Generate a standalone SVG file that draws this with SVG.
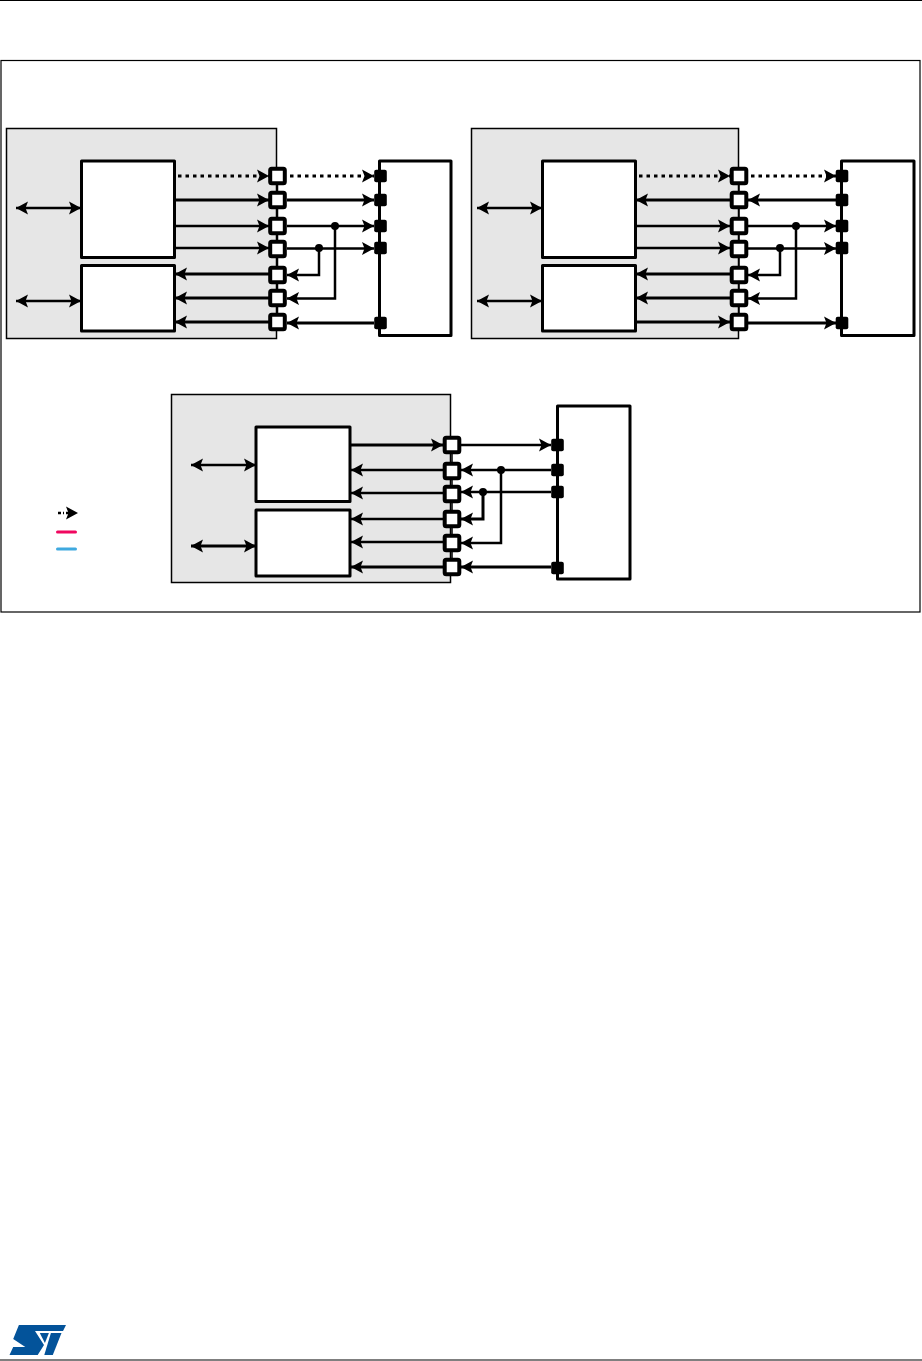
<svg xmlns="http://www.w3.org/2000/svg" width="922" height="1361" viewBox="0 0 922 1361">
<style>
.panel{fill:#e6e6e6;stroke:#000;stroke-width:1.5}
.box{fill:#fff;stroke:#000;stroke-width:3;stroke-linejoin:round}
.ext{fill:none;stroke:#000;stroke-width:3;stroke-linejoin:round}
.pin{fill:#fff;stroke:#000;stroke-width:4;stroke-linejoin:round}
.blk{fill:#000;stroke:none}
.w{fill:none;stroke:#000;stroke-width:3;marker-end:url(#a)}
.n{fill:none;stroke:#000;stroke-width:2.500;marker-end:url(#a)}
.d{fill:none;stroke:#000;stroke-width:3;stroke-dasharray:3.500 4;marker-end:url(#a)}
.b{fill:none;stroke:#000;stroke-width:2.500;marker-start:url(#a);marker-end:url(#a)}
.p{fill:none;stroke:#000;stroke-width:1.500}
.leg{fill:none;stroke-width:3;stroke-linecap:round}
</style>
<defs>
<marker id="a" markerUnits="userSpaceOnUse" markerWidth="13" markerHeight="15" refX="12" refY="7" orient="auto-start-reverse"><path d="M0,0.500 L12,7 L0,13.500 L2.500,7Z" fill="#000"/></marker>
<g id="open"><rect x="-7.300" y="-7.300" width="14.600" height="14.600" rx="1.500" class="pin"/></g>
<g id="solid"><rect x="-6.300" y="-6.200" width="12.600" height="12.400" rx="2" class="blk"/></g>
</defs>
<rect width="922" height="1361" fill="#fff"/>
<path d="M0,0.500H922M0,1360H922" stroke="#000" stroke-width="1.200" fill="none"/>
<rect id="frame" x="1" y="60.500" width="919" height="551.500" fill="none" stroke="#000" stroke-width="1.200"/>

<g id="panel-a">
<rect class="panel" x="6.500" y="128.500" width="270" height="210"/>
<rect class="box" x="81.500" y="161" width="93" height="96.500"/>
<rect class="box" x="81.500" y="265.500" width="93" height="65.500"/>
</g>
<g id="panel-b">
<rect class="panel" x="471.500" y="128.500" width="267" height="210"/>
<rect class="box" x="542.500" y="161" width="93" height="96.500"/>
<rect class="box" x="542.500" y="265.500" width="93" height="65.500"/>
</g>
<g id="panel-c">
<rect class="panel" x="171.500" y="394.500" width="279" height="188"/>
<rect class="box" x="256" y="427" width="94" height="74.500"/>
<rect class="box" x="256" y="510" width="94" height="66"/>
</g>
<g id="ext-a"><rect class="ext" x="379.500" y="161" width="71.500" height="174.500"/></g>
<g id="ext-b"><rect class="ext" x="841.500" y="161" width="72.500" height="174.500"/></g>
<g id="ext-c"><rect class="ext" x="557.500" y="406" width="72.500" height="173"/></g>

<g id="connectors">
<path class="p" d="M277.500,176V322M739,176V322M452,445V567"/>
<path class="d" d="M178,176H269"/><path class="d" d="M290,176H374"/>
<path class="w" d="M175,200H269"/><path class="w" d="M287,200H374"/>
<path class="n" d="M175,226H269"/><path class="n" d="M287,226H374"/>
<path class="n" d="M175,248H269"/><path class="n" d="M287,248.500H374"/>
<path class="w" d="M269,274H175"/><path class="w" d="M269,298H175"/><path class="w" d="M269,322H175"/>
<path class="n" d="M319,249V275H287"/><path class="n" d="M335,226V298.500H287"/>
<path class="w" d="M374,323H287"/>
<path class="b" d="M16,208H81"/><path class="b" d="M16,301H81"/>
<circle cx="335" cy="226" r="4"/><circle cx="319" cy="248" r="4"/>
<path class="d" d="M639,176H730"/><path class="d" d="M751,176H836"/>
<path class="w" d="M730,200H636"/><path class="w" d="M836,200H748"/>
<path class="n" d="M636,226H730"/><path class="n" d="M748,226H836"/>
<path class="n" d="M636,248H730"/><path class="n" d="M748,248.500H836"/>
<path class="w" d="M730,274H636"/><path class="w" d="M730,298H636"/>
<path class="w" d="M636,322H730"/><path class="w" d="M748,323H836"/>
<path class="n" d="M780,249V275H748"/><path class="n" d="M796,226V298.500H748"/>
<path class="b" d="M477,208H542"/><path class="b" d="M477,301H542"/>
<circle cx="796" cy="226" r="4"/><circle cx="780" cy="248" r="4"/>
<path class="w" d="M351,445H443"/><path class="n" d="M461,445H551"/>
<path class="n" d="M443,470H351"/><path class="n" d="M443,493H351"/>
<path class="n" d="M443,519H351"/><path class="n" d="M443,542H351"/><path class="w" d="M443,567H351"/>
<path class="n" d="M551,470H461"/><path class="n" d="M551,492H461"/>
<path class="w" d="M483,492V519H461"/><path class="n" d="M501,470V543H461"/>
<path class="w" d="M551,567H461"/>
<path class="b" d="M191,465H256"/><path class="w" d="M191,546H256" marker-start="url(#a)"/>
<circle cx="501" cy="470" r="4"/><circle cx="483" cy="492" r="4"/>
</g>

<g id="pins-a">
<use href="#open" x="277.500" y="176"/><use href="#open" x="277.500" y="200"/><use href="#open" x="277.500" y="226"/><use href="#open" x="277.500" y="249"/><use href="#open" x="277.500" y="275"/><use href="#open" x="277.500" y="298"/><use href="#open" x="277.500" y="322"/>
<use href="#solid" x="380.500" y="176"/><use href="#solid" x="380.500" y="200"/><use href="#solid" x="380.500" y="226"/><use href="#solid" x="380.500" y="248"/><use href="#solid" x="380.500" y="323"/>
</g>
<g id="pins-b">
<use href="#open" x="739" y="176"/><use href="#open" x="739" y="200"/><use href="#open" x="739" y="226"/><use href="#open" x="739" y="249"/><use href="#open" x="739" y="275"/><use href="#open" x="739" y="298"/><use href="#open" x="739" y="322"/>
<use href="#solid" x="842" y="176"/><use href="#solid" x="842" y="200"/><use href="#solid" x="842" y="226"/><use href="#solid" x="842" y="248"/><use href="#solid" x="842" y="323"/>
</g>
<g id="pins-c">
<use href="#open" x="452" y="445"/><use href="#open" x="452" y="471"/><use href="#open" x="452" y="494"/><use href="#open" x="452" y="519"/><use href="#open" x="452" y="543"/><use href="#open" x="452" y="567"/>
<use href="#solid" x="557.500" y="445"/><use href="#solid" x="557.500" y="470"/><use href="#solid" x="557.500" y="492"/><use href="#solid" x="557.500" y="568"/>
</g>

<g id="legend">
<path d="M58,513H64M66,513H70" stroke="#000" stroke-width="2.500" stroke-dasharray="3 2" fill="none"/>
<path d="M66,506.500L78,513L66,519.500L68.500,513Z"/>
<path class="leg" d="M57.500,532H75.500" stroke="#f0075f"/>
<path class="leg" d="M57.500,549H75.500" stroke="#3fa9df"/>
</g>

<g id="logo" fill="#03539a">
<path d="M18.900,1325H66L63,1331H35L44,1345L37.700,1355H9.500L13.200,1347H25.300L13.200,1339Z"/>
<path d="M39.800,1333H48.900L44.900,1343Z"/>
<path d="M50.900,1333H61.500L52.800,1355H44.300Z"/>
</g>
</svg>
